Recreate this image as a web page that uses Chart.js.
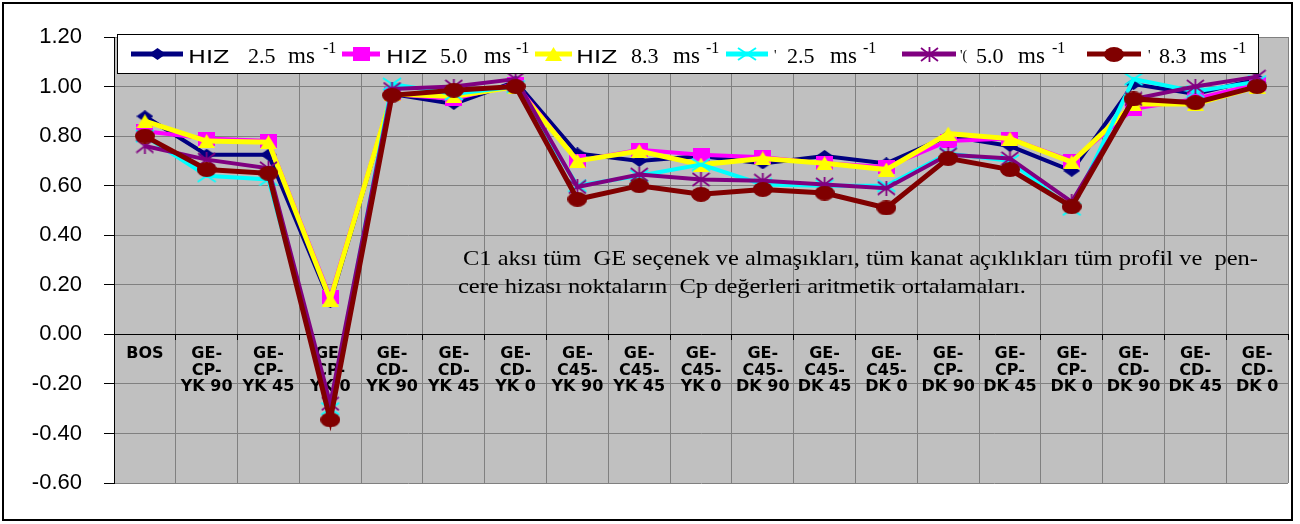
<!DOCTYPE html>
<html>
<head>
<meta charset="utf-8">
<script src="https://cdn.jsdelivr.net/npm/chart.js@4.4.1/dist/chart.umd.min.js"></script>
<style>
html,body{margin:0;padding:0;background:#fff;}
#wrap{width:1300px;height:524px;}
</style>
</head>
<body>
<div id="wrap"><canvas id="myChart" width="1300" height="524"></canvas></div>
<script>
// kategoriler (x ekseni)
const categories = [
  'BOS',
  ['GE-','CP-','YK 90'], ['GE-','CP-','YK 45'], ['GE-','CP-','YK 0'],
  ['GE-','CD-','YK 90'], ['GE-','CD-','YK 45'], ['GE-','CD-','YK 0'],
  ['GE-','C45-','YK 90'], ['GE-','C45-','YK 45'], ['GE-','C45-','YK 0'],
  ['GE-','C45-','DK 90'], ['GE-','C45-','DK 45'], ['GE-','C45-','DK 0'],
  ['GE-','CP-','DK 90'], ['GE-','CP-','DK 45'], ['GE-','CP-','DK 0'],
  ['GE-','CD-','DK 90'], ['GE-','CD-','DK 45'], ['GE-','CD-','DK 0']
];

// Cp ortalamalari
const hiz25  = [0.88, 0.725, 0.725, 0.13, 0.97, 0.93, 1.02, 0.73, 0.70, 0.72, 0.69, 0.72, 0.69, 0.80, 0.76, 0.66, 1.01, 0.97, 1.03];
const hiz50  = [0.82, 0.79, 0.78, 0.15, 0.97, 0.95, 1.01, 0.70, 0.745, 0.725, 0.715, 0.69, 0.675, 0.78, 0.79, 0.70, 0.91, 0.95, 1.01];
const hiz83  = [0.86, 0.78, 0.775, 0.14, 0.97, 0.96, 1.00, 0.70, 0.74, 0.685, 0.71, 0.69, 0.665, 0.81, 0.79, 0.695, 0.93, 0.93, 1.00];
const hiz25b = [0.80, 0.64, 0.625, -0.30, 1.01, 0.97, 1.00, 0.60, 0.64, 0.685, 0.605, 0.60, 0.60, 0.73, 0.70, 0.505, 1.03, 0.98, 1.02];
const hiz50b = [0.76, 0.705, 0.67, -0.28, 0.99, 1.00, 1.03, 0.595, 0.645, 0.625, 0.62, 0.605, 0.59, 0.725, 0.71, 0.535, 0.95, 1.00, 1.04];
const hiz83b = [0.80, 0.665, 0.65, -0.345, 0.965, 0.985, 1.00, 0.545, 0.60, 0.565, 0.585, 0.57, 0.51, 0.71, 0.665, 0.515, 0.95, 0.935, 1.00];

// lejant metinleri
const legendPrefix = ['HIZ', 'HIZ', 'HIZ', "'", "'(", "'"];
const legendSpeed  = ['2.5', '5.0', '8.3', '2.5', '5.0', '8.3'];

const noteLines = [
  'C1 aksı tüm  GE seçenek ve almaşıkları, tüm kanat açıklıkları tüm profil ve  pen-',
  'cere hizası noktaların  Cp değerleri aritmetik ortalamaları.'
];

// isaretler (excel tarzi, biraz yayvan)
function mk(w, h, fn) {
  const c = document.createElement('canvas');
  c.width = w; c.height = h;
  fn(c.getContext('2d'), w, h);
  return c;
}
const mDiamond = mk(17, 12, (g, w, h) => { g.fillStyle = '#000080'; g.beginPath(); g.moveTo(w/2,0); g.lineTo(w,h/2); g.lineTo(w/2,h); g.lineTo(0,h/2); g.closePath(); g.fill(); });
const mSquare = mk(17, 14, (g, w, h) => { g.fillStyle = '#FF00FF'; g.fillRect(0,0,w,h); });
const mTriangle = mk(17, 14, (g, w, h) => { g.fillStyle = '#FFFF00'; g.beginPath(); g.moveTo(w/2,0); g.lineTo(w,h); g.lineTo(0,h); g.closePath(); g.fill(); });
const mCross = mk(20, 14, (g, w, h) => { g.strokeStyle = '#00FFFF'; g.lineWidth = 2; g.beginPath(); g.moveTo(1,1); g.lineTo(w-1,h-1); g.moveTo(w-1,1); g.lineTo(1,h-1); g.stroke(); });
const mStar = mk(19, 15, (g, w, h) => { g.strokeStyle = '#800080'; g.lineWidth = 1.8; g.beginPath(); g.moveTo(1,1); g.lineTo(w-1,h-1); g.moveTo(w-1,1); g.lineTo(1,h-1); g.moveTo(w/2,0); g.lineTo(w/2,h); g.stroke(); });
const mCircle = mk(20, 15, (g, w, h) => { g.fillStyle = '#800000'; g.beginPath(); g.ellipse(w/2,h/2,w/2,h/2,0,0,Math.PI*2); g.fill(); });

const colors  = ['#000080', '#FF00FF', '#FFFF00', '#00FFFF', '#800080', '#800000'];
const markers = [mDiamond, mSquare, mTriangle, mCross, mStar, mCircle];
const widths  = [4, 4, 5, 4, 4, 5];
const series  = [hiz25, hiz50, hiz83, hiz25b, hiz50b, hiz83b];

const datasets = series.map((d, i) => ({
  label: legendPrefix[i] + ' ' + legendSpeed[i] + ' ms-1',
  data: d,
  borderColor: colors[i],
  backgroundColor: colors[i],
  borderWidth: widths[i],
  pointStyle: markers[i],
  pointRadius: 7,
  tension: 0,
  order: 5 - i   // koyu kirmizi en ustte
}));

function txt(ctx, s, x, y, font, sx) {
  ctx.save();
  ctx.font = font;
  ctx.translate(x, y);
  ctx.scale(sx || 1, 1);
  ctx.fillText(s, 0, 0);
  ctx.restore();
}

const decor = {
  id: 'decor',
  beforeDraw(chart) {
    const a = chart.chartArea, ctx = chart.ctx;
    ctx.save();
    ctx.fillStyle = '#C0C0C0';
    ctx.fillRect(a.left, a.top, a.right - a.left, a.bottom - a.top);
    ctx.restore();
  },
  afterDraw(chart) {
    const ctx = chart.ctx;
    ctx.save();
    ctx.fillStyle = '#000';
    ctx.textBaseline = 'alphabetic';
    // aciklama metni
    ctx.font = '21px "Liberation Serif", "Times New Roman", serif';
    const sx = 795 / ctx.measureText(noteLines[0]).width;
    txt(ctx, noteLines[0], 463, 265, ctx.font, sx);
    txt(ctx, noteLines[1], 458, 293, ctx.font, sx);

    // lejant kutusu
    ctx.fillStyle = '#fff';
    ctx.fillRect(117, 34, 1142, 40);
    ctx.strokeStyle = '#000';
    ctx.lineWidth = 1;
    ctx.strokeRect(117.5, 34.5, 1141, 39);

    const lx = [[131,183], [342,380], [535,572], [726,768], [902,956], [1087,1141]];
    const px = [188, 386, 576, 774, 960, 1148];
    const sp = [248, 440, 631, 787, 976, 1159];
    const msx = [288, 484, 673, 830, 1018, 1200];
    const sup = [323, 516, 706, 863, 1052, 1233];
    for (let i = 0; i < 6; i++) {
      ctx.strokeStyle = colors[i];
      ctx.lineWidth = 5;
      ctx.beginPath();
      ctx.moveTo(lx[i][0], 54); ctx.lineTo(lx[i][1], 54);
      ctx.stroke();
      const m = markers[i];
      ctx.drawImage(m, Math.round((lx[i][0] + lx[i][1]) / 2 - m.width / 2), Math.round(54 - m.height / 2));
      ctx.fillStyle = '#000';
      if (i < 3) {
        txt(ctx, legendPrefix[i], px[i], 63, '18px "DejaVu Sans", sans-serif', 1.33);
      } else {
        txt(ctx, legendPrefix[i], px[i], 60, '14px "Liberation Serif", serif', 1);
      }
      txt(ctx, legendSpeed[i], sp[i], 63, '22px "Liberation Serif", serif', 1);
      txt(ctx, 'ms', msx[i], 63, '23px "Liberation Serif", serif', 1);
      txt(ctx, '-1', sup[i], 53, '16px "Liberation Serif", serif', 1);
    }

    // dis cerceve
    ctx.fillStyle = '#fff';
    ctx.fillRect(1293, 0, 7, 524);
    ctx.strokeStyle = '#000';
    ctx.lineWidth = 2;
    ctx.strokeRect(3, 3, 1289, 517);
    ctx.restore();
  }
};

new Chart('myChart', {
  type: 'line',
  data: { labels: categories, datasets: datasets },
  options: {
    responsive: false,
    animation: false,
    devicePixelRatio: 1,
    layout: { padding: { top: 37, bottom: 41, left: 0, right: 0 } },
    plugins: { legend: { display: false }, tooltip: { enabled: false } },
    scales: {
      x: {
        offset: true,
        position: { y: 0 },
        grid: { offset: true, color: '#808080', tickColor: '#000', tickLength: 5 },
        border: { color: '#000', width: 1 },
        ticks: {
          color: '#000', padding: 6, autoSkip: false, minRotation: 0, maxRotation: 0,
          font: { family: '"DejaVu Sans", sans-serif', weight: 'bold', size: 16, lineHeight: 1.05 }
        },
        afterFit: s => { s.height = 0; }
      },
      y: {
        min: -0.6, max: 1.2,
        ticks: {
          stepSize: 0.2, color: '#000', padding: 22,
          font: { family: '"Liberation Sans", Arial, sans-serif', size: 22 },
          callback: v => Number(v).toFixed(2)
        },
        grid: { color: '#808080', tickColor: '#000', tickLength: 10 },
        border: { color: '#000', width: 1 },
        afterFit: s => { s.width = 114; }
      }
    }
  },
  plugins: [decor]
});
</script>
</body>
</html>
